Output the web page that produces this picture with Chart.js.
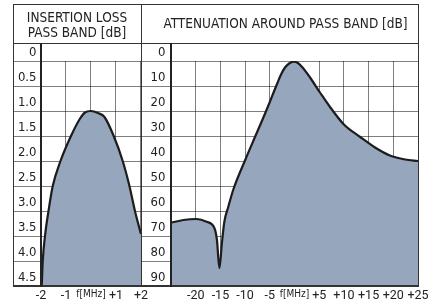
<!DOCTYPE html>
<html>
<head>
<meta charset="utf-8">
<script src="https://cdn.jsdelivr.net/npm/chart.js@4.4.1/dist/chart.umd.min.js"></script>
<style>
  body { margin: 0; background: #fff; }
  #wrap { position: relative; width: 433px; height: 307px; overflow: hidden;
          font-family: "DejaVu Sans Condensed", "DejaVu Sans", sans-serif; color: #222; }
  canvas { position: absolute; top: 0; }
  .ln { position: absolute; background: #333; z-index: 2; }
  .hd { position: absolute; top: 4px; height: 39px; display: flex; align-items: center;
        justify-content: center; text-align: center; font-size: 13.5px; line-height: 15px; z-index: 2; }
</style>
</head>
<body>
<div id="wrap">
  <canvas id="passBand" style="left:0;width:150px;height:307px" width="150" height="307"></canvas>
  <canvas id="around" style="left:141px;width:292px;height:307px" width="292" height="307"></canvas>

  <!-- frame / header boxes -->
  <div class="ln" style="left:13px;top:4px;width:406px;height:1px"></div>
  <div class="ln" style="left:13px;top:43px;width:406px;height:1px"></div>
  <div class="ln" style="left:13px;top:285px;width:406px;height:2px"></div>
  <div class="ln" style="left:13px;top:4px;width:1px;height:283px"></div>
  <div class="ln" style="left:418px;top:4px;width:1px;height:283px"></div>
  <div class="ln" style="left:141px;top:4px;width:1px;height:283px"></div>
  <div class="ln" style="left:40px;top:43px;width:2px;height:244px;background:#222"></div>
  <div class="ln" style="left:170px;top:43px;width:2px;height:244px;background:#222"></div>

  <div class="hd" style="left:13px;width:128px;padding-top:1px">INSERTION LOSS<br>PASS BAND [dB]</div>
  <div class="hd" style="left:141px;width:265px;padding-left:12px">ATTENUATION AROUND PASS BAND [dB]</div>
</div>

<script>
// tick values
const lossTicks = [0, 0.5, 1, 1.5, 2, 2.5, 3, 3.5, 4, 4.5];
const attTicks = [0, 10, 20, 30, 40, 50, 60, 70, 80, 90];
const passFreqTicks = [-2, -1, 0, 1, 2];
const aroundFreqTicks = [-25, -20, -15, -10, -5, 0, 5, 10, 15, 20, 25];

// insertion loss in the pass band (MHz / dB)
const passFreq = [-1.97, -1.93, -1.84, -1.70, -1.53, -1.22, -0.80, -0.46, -0.24, 0, 0.28, 0.54, 0.91, 1.27, 1.54, 1.76, 2.0];
const passLoss = [4.5, 4.0, 3.5, 3.0, 2.5, 2.0, 1.5, 1.17, 1.03, 1.0, 1.04, 1.12, 1.5, 2.0, 2.5, 3.0, 3.46];

// attenuation around the pass band (MHz / dB)
const aroundFreq = [-25, -22.5, -19.8, -17.8, -16.2, -15.7, -15.2, -14.7, -14.2, -13.4, -12.4, -10, -8, -6.3, -5.1,
                    -4.3, -3.48, -2.73, -1.92, -1.1, -0.2, 0.7, 1.72, 3.14, 5.16, 7.19, 10.0, 13.3, 16.3, 19.3, 22.4, 25];
const aroundAtt = [64.7, 63.6, 63.2, 64.3, 66.9, 71.6, 82.9, 72.9, 64.3, 58.3, 51.5, 39.7, 30.4, 22.6, 16.9,
                   12.9, 8.9, 5.4, 2.6, 1.0, 0.3, 0.8, 2.8, 6.6, 12.6, 18.4, 25.4, 30.4, 34.6, 37.8, 39.4, 40];

const fam = "'DejaVu Sans Condensed', 'DejaVu Sans', sans-serif";
const xFam = "Roboto, sans-serif";
const gridCol = "rgba(0,0,0,0.5)";
const txtCol = "#222";
const fillCol = "#96a7bd";

function yAxis(ticks, w, pad, fmt) {
    return {
        reverse: true,
        min: ticks[0],
        max: ticks[ticks.length - 1],
        z: 1,
        afterBuildTicks: (s) => { s.ticks = ticks.map((v) => ({ value: v })); },
        afterFit: (s) => { s.width = w; },
        grid: { color: gridCol, tickLength: w, drawTicks: true },
        border: { color: "#222", width: 2 },
        ticks: { padding: pad, labelOffset: -8, color: txtCol, font: { family: fam, size: 13 }, callback: fmt },
    };
}

function xAxis(ticks, hide) {
    return {
        type: "linear",
        min: ticks[0],
        max: ticks[ticks.length - 1],
        z: 1,
        afterBuildTicks: (s) => { s.ticks = ticks.map((v) => ({ value: v })); },
        afterFit: (s) => { s.height = 21; },
        grid: { color: gridCol, drawTicks: false },
        border: { color: "#222", width: 2 },
        ticks: {
            autoSkip: false,
            maxRotation: 0,
            padding: 2,
            color: txtCol,
            // the 0 tick carries the unit, in a small font
            font: (ctx) => (ctx.tick && ctx.tick.value === 0 ? { family: fam, size: 10 } : { family: xFam, size: 12.5 }),
            callback: (v) => {
                if (v === 0) return "f[MHz]";
                if (hide.includes(v)) return "";
                return v > 0 ? "+" + v : String(v);
            },
        },
    };
}

function curve(xs, ys, floor) {
    return {
        data: xs.map((x, i) => ({ x: x, y: ys[i] })),
        borderColor: "#1c1c1c",
        borderWidth: 2.2,
        backgroundColor: fillCol,
        fill: { value: floor },
        pointRadius: 0,
        cubicInterpolationMode: "monotone",
    };
}

new Chart(document.getElementById("passBand"), {
    type: "line",
    data: { datasets: [curve(passFreq, passLoss, lossTicks[lossTicks.length - 1])] },
    options: {
        responsive: false,
        animation: false,
        layout: { padding: { left: 13, right: 9, top: 61, bottom: 0 } },
        plugins: { legend: { display: false }, tooltip: { enabled: false } },
        scales: {
            x: xAxis(passFreqTicks, []),
            y: yAxis(lossTicks, 28, -23.5, (v) => (v === 0 ? "0" : v.toFixed(1))),
        },
    },
});

new Chart(document.getElementById("around"), {
    type: "line",
    data: { datasets: [curve(aroundFreq, aroundAtt, attTicks[attTicks.length - 1])] },
    options: {
        responsive: false,
        animation: false,
        layout: { padding: { left: 0, right: 15, top: 61, bottom: 0 } },
        plugins: { legend: { display: false }, tooltip: { enabled: false } },
        scales: {
            x: xAxis(aroundFreqTicks, [-25]),
            y: yAxis(attTicks, 30, -24.5, (v) => String(v)),
        },
    },
});
</script>
</body>
</html>
